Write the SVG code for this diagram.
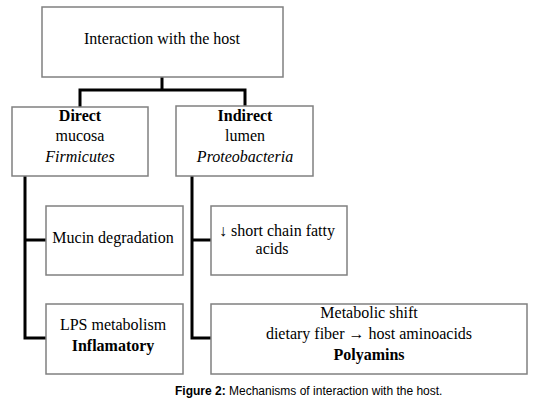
<svg xmlns="http://www.w3.org/2000/svg" width="540" height="407" viewBox="0 0 540 407">
<style>
.box{fill:#fff;stroke:#808080;stroke-width:1.5}
.t{font-family:'Liberation Serif','DejaVu Serif','Times New Roman',serif;font-size:16px;fill:#000;text-anchor:middle}
.b{font-weight:bold}
.i{font-style:italic}
.con{fill:none;stroke:#000;stroke-width:3}
.cap{font-family:'Liberation Sans',Arial,sans-serif;font-size:12px;fill:#000}
</style>
<rect width="540" height="407" fill="#fff"/>
<g id="connectors">
<path class="con" d="M162 77 V90 M80 107 V90 H245 V107"/>
<path class="con" d="M25 176 V338 H46 M25 240 H46"/>
<path class="con" d="M192 176 V338 H211 M192 240 H211"/>
</g>
<g id="root">
<rect class="box" x="42" y="7" width="241" height="70"/>
<text class="t" x="162" y="44">Interaction with the host</text>
</g>
<g id="direct">
<rect class="box" x="12" y="107" width="136" height="69"/>
<text class="t b" x="80" y="121">Direct</text>
<text class="t" x="80" y="141">mucosa</text>
<text class="t i" x="80" y="162">Firmicutes</text>
</g>
<g id="indirect">
<rect class="box" x="176" y="106" width="137" height="70"/>
<text class="t b" x="245" y="121">Indirect</text>
<text class="t" x="245" y="141">lumen</text>
<text class="t i" x="245" y="162">Proteobacteria</text>
</g>
<g id="mucin">
<rect class="box" x="46" y="206" width="137" height="69"/>
<text class="t" x="113" y="243">Mucin degradation</text>
</g>
<g id="lps">
<rect class="box" x="46" y="304" width="137" height="70"/>
<text class="t" x="113" y="330">LPS metabolism</text>
<text class="t b" x="113" y="351">Inflamatory</text>
</g>
<g id="scfa">
<rect class="box" x="211" y="206" width="136" height="69"/>
<text class="t" x="277" y="236">↓ short chain fatty</text>
<text class="t" x="272" y="254">acids</text>
</g>
<g id="metabolic">
<rect class="box" x="211" y="304" width="316" height="70"/>
<text class="t" x="369" y="318">Metabolic shift</text>
<text class="t" x="369" y="339">dietary fiber → host aminoacids</text>
<text class="t b" x="369" y="360">Polyamins</text>
</g>
<text class="cap" x="175" y="395"><tspan font-weight="bold">Figure 2:</tspan> Mechanisms of interaction with the host.</text>
</svg>
